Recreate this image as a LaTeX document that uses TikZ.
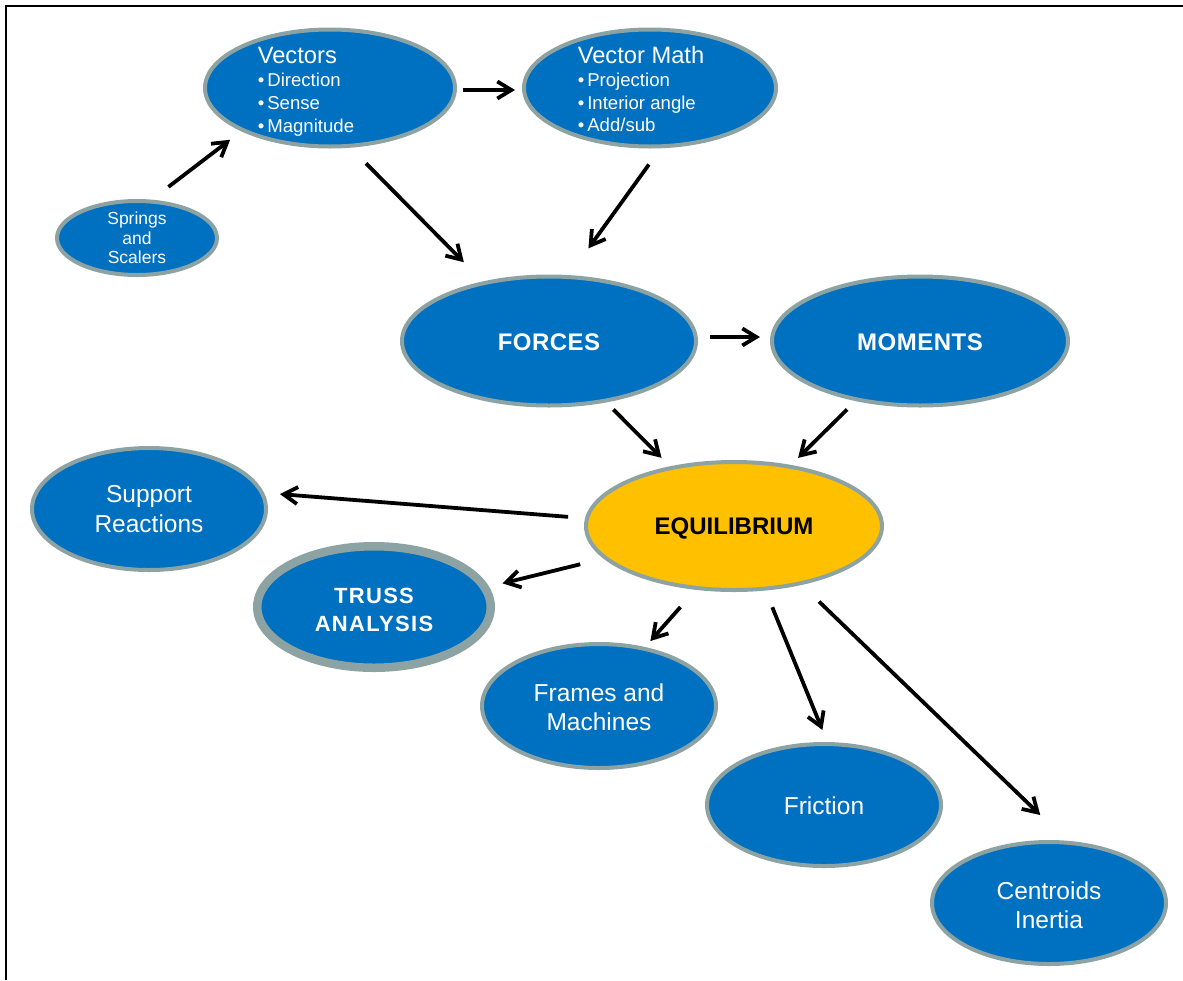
\documentclass[tikz,border=0pt]{standalone}
\usepackage{fontspec}
\setmainfont{Liberation Sans}
\usetikzlibrary{shapes.geometric,arrows.meta}
\definecolor{nblue}{HTML}{0070C0}
\definecolor{ngray}{HTML}{8DA3A3}
\definecolor{nyellow}{HTML}{FFC000}
\newsavebox\cbx
\newcommand\cbox[2][0pt]{\sbox\cbx{#2}\raisebox{\dimexpr(\dp\cbx-\ht\cbx)/2-#1\relax}[0pt][0pt]{\usebox\cbx}}
\newcommand\clines[2]{\vbox{\baselineskip=#1\lineskiplimit=-100pt\halign{\hfil##\hfil\cr#2\crcr}}}
\newcommand\llines[2]{\vbox{\baselineskip=#1\lineskiplimit=-100pt\halign{##\hfil\cr#2\crcr}}}
\newcommand\bl{\textbullet\hspace{3pt}}
\begin{document}
\begin{tikzpicture}[x=1pt,y=-1pt,
  bub/.style={ellipse, draw=ngray, line width=4pt, fill=nblue, text=white, inner sep=0pt},
  big/.style={font=\fontsize{24.5}{29}\selectfont},
  bigb/.style={font=\bfseries\fontsize{24}{29}\selectfont\addfontfeatures{LetterSpace=2}},
  arr/.style={line width=3.8pt, -{Straight Barb[length=14pt,width=17pt]}},
]
\useasboundingbox (0,0) rectangle (1183,980);
\fill[white] (0,0) rectangle (1183,980);
\draw[line width=1.6pt] (6,980) -- (6,6) -- (1183,6);

\node[bub, minimum width=250pt, minimum height=117pt, font=\fontsize{18.6}{22.7}\selectfont] (vec) at (330,88)
  {\cbox[3.8pt]{\llines{22.7pt}{{\fontsize{23.7}{24}\selectfont Vectors}\cr \bl Direction\cr \bl Sense\cr \bl Magnitude}\hspace*{48pt}}};
\node[bub, minimum width=252pt, minimum height=117pt, font=\fontsize{18.6}{22.7}\selectfont] (vm) at (650,88)
  {\cbox[1.2pt]{\llines{22.7pt}{{\fontsize{23.7}{24}\selectfont Vector Math}\cr \bl Projection\cr \bl Interior angle\cr \bl Add/sub}\hspace*{18pt}}};
\node[bub, minimum width=160pt, minimum height=74pt, font=\fontsize{17.5}{19.5}\selectfont] (spr) at (137,238)
  {\cbox[0pt]{\clines{19.5pt}{Springs\cr and\cr Scalers}}};
\node[bub, bigb, minimum width=294pt, minimum height=129pt] (forces) at (549,341) {\cbox[1pt]{FORCES}};
\node[bub, bigb, minimum width=296pt, minimum height=129pt] (mom) at (920,341) {\cbox[1pt]{MOMENTS}};
\node[bub, fill=nyellow, text=black, font=\bfseries\fontsize{24}{29}\selectfont, minimum width=296pt, minimum height=128pt] (eq) at (734,526) {\cbox[2pt]{EQUILIBRIUM}};
\node[bub, big, minimum width=234pt, minimum height=122pt] (sup) at (149,509) {\cbox[0.4pt]{\clines{30pt}{Support\cr Reactions}}};
\node[bub, line width=8.5pt, font=\bfseries\fontsize{22}{28}\selectfont\addfontfeatures{LetterSpace=6}, minimum width=233.5pt, minimum height=121.5pt] (truss) at (374,607) {\cbox[2.8pt]{\clines{28.4pt}{TRUSS\cr ANALYSIS}}};
\node[bub, big, minimum width=234pt, minimum height=124pt] (frames) at (599,706) {\cbox[1pt]{\clines{28.5pt}{Frames and\cr Machines}}};
\node[bub, big, minimum width=234pt, minimum height=122pt] (fric) at (824,805) {\cbox[1pt]{Friction}};
\node[bub, big, minimum width=234pt, minimum height=122pt] (cent) at (1049,903) {\cbox[2pt]{\clines{29pt}{Centroids\cr Inertia}}};

\draw[arr, shorten <=21pt, shorten >=14pt] (spr.69) -- (vec.206);
\draw[arr, shorten <=6pt, shorten >=7pt] ([yshift=-2pt]vec.east) -- ([yshift=-2pt]vm.west);
\draw[arr, shorten <=22pt, shorten >=27pt] (vec.-71.3) -- (forces.138.3);
\draw[arr, shorten <=20pt, shorten >=33pt] (vm.-80.9) -- (forces.73.5);
\draw[arr, shorten <=12pt, shorten >=10pt] ([yshift=4pt]forces.east) -- ([yshift=4pt]mom.west);
\draw[arr, shorten <=10pt, shorten >=12pt] (forces.-47.9) -- (eq.137.7);
\draw[arr, shorten <=12pt, shorten >=10pt] (mom.-137.2) -- (eq.47.5);
\draw[arr, shorten <=17pt, shorten >=16pt] (eq.177.1) -- (sup.8.1);
\draw[arr, shorten <=24pt, shorten >=14pt] (eq.194.7) -- (truss.10.4);
\draw[arr, shorten <=23pt, shorten >=8pt] (eq.-121.3) -- (frames.52.2);
\draw[arr, shorten <=18pt, shorten >=13pt] (eq.-64.1) -- (fric.87.4);
\draw[arr, shorten <=24pt, shorten >=37pt] (eq.-41.7) -- (cent.74.2);
\end{tikzpicture}
\end{document}
